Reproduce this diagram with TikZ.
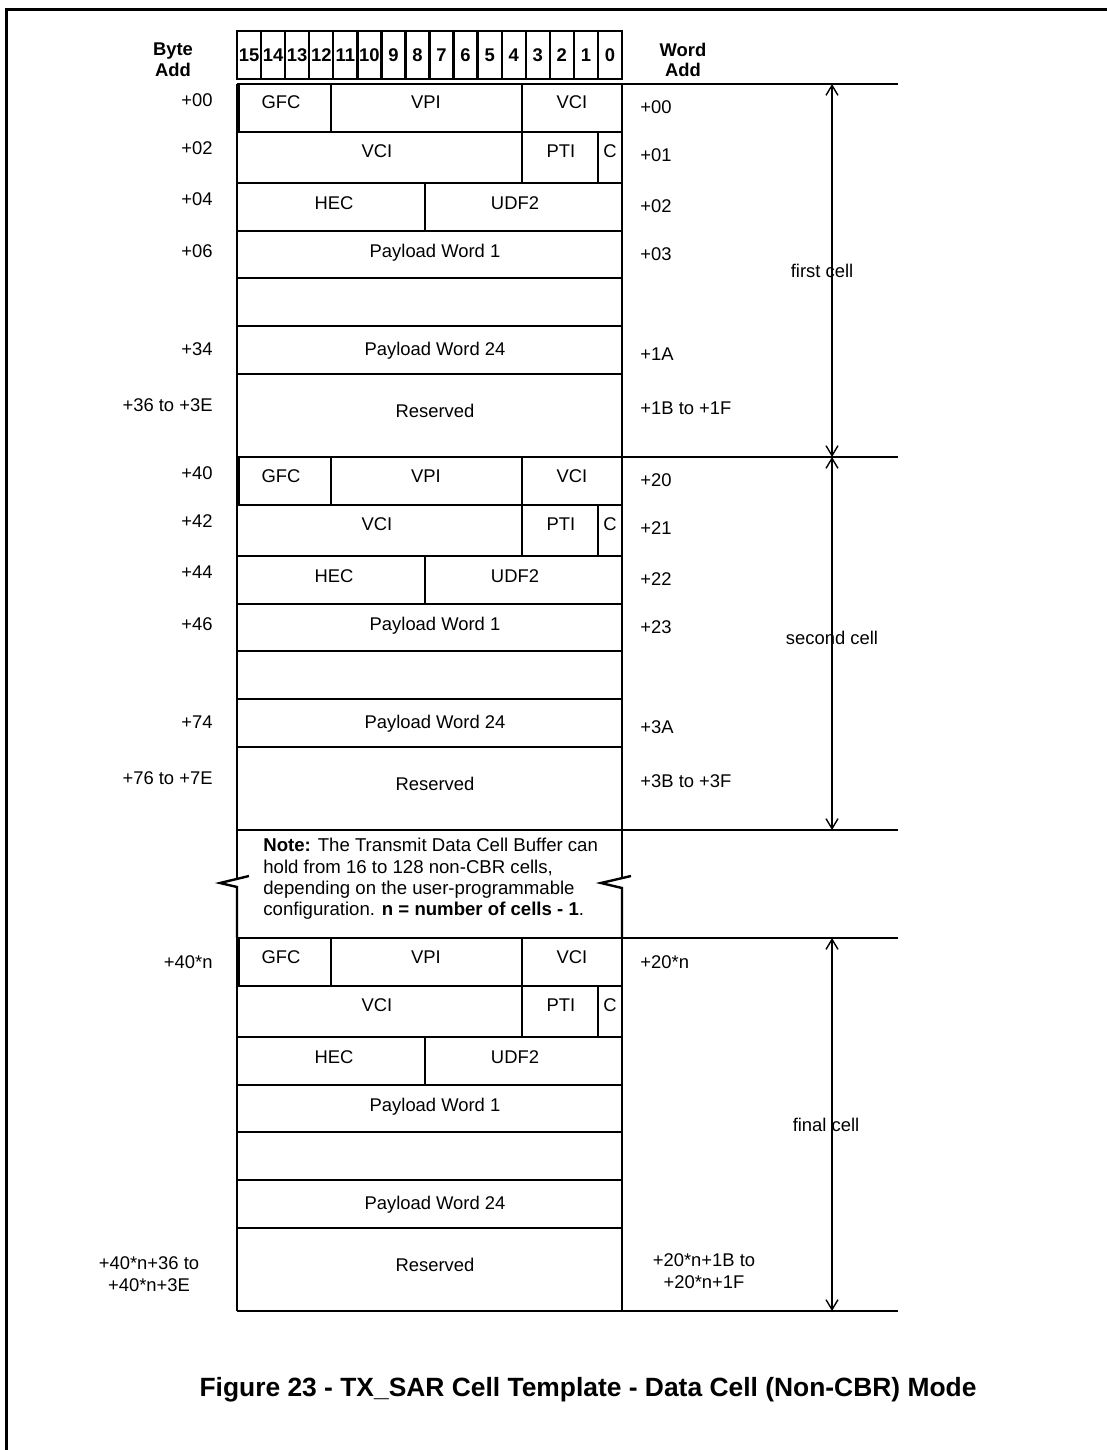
\documentclass[tikz,border=0pt]{standalone}
\usepackage{fontspec}
\setmainfont{Liberation Sans}
\usetikzlibrary{arrows.meta}
\newcommand{\closelines}{\lineskiplimit=-5pt\relax}
\tikzset{
  every picture/.style={x=0.5pt, y=-0.5pt, line join=miter},
  txt/.style={font=\fontsize{9.2}{11}\selectfont, inner sep=0pt},
  fld/.style={txt, anchor=base},
  badd/.style={txt, anchor=base east},
  wadd/.style={txt, anchor=base west},
  tight/.style={txt, align=center, font={\fontsize{9.2}{11}\selectfont\closelines}},
  note/.style={txt, align=left, font={\fontsize{9.3}{10.65}\selectfont\closelines}},
  hdr/.style={txt, align=center, font=\fontsize{9.2}{10.3}\selectfont\bfseries},
  bitbox/.style={draw, line width=1.2pt, minimum width=12.03pt, minimum height=24pt, inner sep=0pt, font=\fontsize{9.2}{10}\selectfont\bfseries},
  grid/.style={line width=1.2pt},
  frame/.style={line width=1.5pt},
  span/.style={{Straight Barb[length=5pt,width=6pt]}-{Straight Barb[length=5pt,width=6pt]}, line width=0.7pt},
  lbl/.style={txt, fill=none},
  title/.style={inner sep=0pt, font=\fontsize{13.2}{15}\selectfont\bfseries},
}
\begin{document}
\begin{tikzpicture}
  \useasboundingbox (0,0) rectangle (1107,1450);
  \draw[frame] (6,1450) -- (6,10) -- (1107,10);
  % bit numbers along the top
  \foreach \b in {0,...,15}
    \node[bitbox] (bit\b) at ({622-24.06*(\b+0.5)},55) {\b};
  \node[hdr] (byteadd) at (173,60) {Byte\\Add};
  \node[hdr] (wordadd) at (683,60) {Word\\Add};
  % one block of rows per cell
  \foreach \cell/\ytop in {first/84, second/457, final/938}{
    \begin{scope}[shift={(0,\ytop)}]
      \draw[grid] (237,0) -- (898,0) (237,0) -- (237,373) (622,0) -- (622,373);
      \draw[line width=2pt] (237.5,0) -- (237.5,48);
      \foreach \r in {48,99,147,194,242,290}
        \draw[grid] (237,\r) -- (622,\r);
      \draw[grid] (331,0) -- (331,48) (522,0) -- (522,99) (598,48) -- (598,99) (425,99) -- (425,147);
      \node[fld] (\cell gfc) at (281,25) {GFC};
      \node[fld] (\cell vpi) at (426,25) {VPI};
      \node[fld] (\cell vcia) at (572,25) {VCI};
      \node[fld] (\cell vcib) at (377,73.5) {VCI};
      \node[fld] (\cell pti) at (561,73.5) {PTI};
      \node[fld] (\cell clp) at (610,73.5) {C};
      \node[fld] (\cell hec) at (334,125.5) {HEC};
      \node[fld] (\cell udf) at (515,125.5) {UDF2};
      \node[fld] (\cell pwa) at (435,173) {Payload Word 1};
      \node[fld] (\cell pwb) at (435,271.5) {Payload Word 24};
      \node[fld] (\cell res) at (435,333.5) {Reserved};
      \coordinate (\cell top) at (832,0);
      \coordinate (\cell bot) at (832,373);
    \end{scope}
  }
  \draw[grid] (237,830) -- (898,830) (237,1311) -- (898,1311);
  % broken edges round the note
  \draw[grid] (237,830) -- (237,879) (622,830) -- (622,878);
  \draw[grid] (249,876) -- (220,883) -- (237,887) -- (237,938);
  \draw[grid] (631,876) -- (601,883) -- (622,888) -- (622,938);
  \node[note, anchor=north west] (note) at (263,838) {\textbf{Note:} The Transmit Data Cell Buffer can\\hold from 16 to 128 non-CBR cells,\\depending on the user-programmable\\configuration. \textbf{n = number of cells - 1}.};
  % addresses
  \foreach \y/\ba/\wa [count=\i] in {84/+00/+00, 132/+02/+01, 183/+04/+02, 457/+40/+20, 505/+42/+21, 556/+44/+22}{
    \node[badd] (b\i) at (213,\y+22.5) {\ba};
    \node[wadd] (w\i) at (640,\y+29.5) {\wa};
  }
  \node[badd] (bpa1) at (213,257) {+06};
  \node[wadd] (wpa1) at (640,260.5) {+03};
  \node[badd] (bpb1) at (213,355) {+34};
  \node[wadd] (wpb1) at (640,360) {+1A};
  \node[badd] (bres1) at (213,411.5) {+36 to +3E};
  \node[wadd] (wres1) at (640,414.5) {+1B to +1F};
  \node[badd] (bpa2) at (213,630) {+46};
  \node[wadd] (wpa2) at (640,633.5) {+23};
  \node[badd] (bpb2) at (213,728) {+74};
  \node[wadd] (wpb2) at (640,733) {+3A};
  \node[badd] (bres2) at (213,784.5) {+76 to +7E};
  \node[wadd] (wres2) at (640,787.5) {+3B to +3F};
  \node[badd] (bn) at (213,968.5) {+40*n};
  \node[wadd] (wn) at (640,968.5) {+20*n};
  \node[tight] (bresn) at (149,1274.5) {+40*n+36 to\\+40*n+3E};
  \node[tight] (wresn) at (704,1271) {+20*n+1B to\\+20*n+1F};
  % cell spans
  \draw[span] (firsttop) -- node[lbl, xshift=-5pt] (lfirst) {first cell} (firstbot);
  \draw[span] (secondtop) -- node[lbl, xshift=0pt, yshift=3pt] (lsecond) {second cell} (secondbot);
  \draw[span] (finaltop) -- node[lbl, xshift=-3pt] (lfinal) {final cell} (finalbot);
  \node[title] (title) at (588,1390) {Figure 23 - TX\_SAR Cell Template - Data Cell (Non-CBR) Mode};
\end{tikzpicture}
\end{document}
